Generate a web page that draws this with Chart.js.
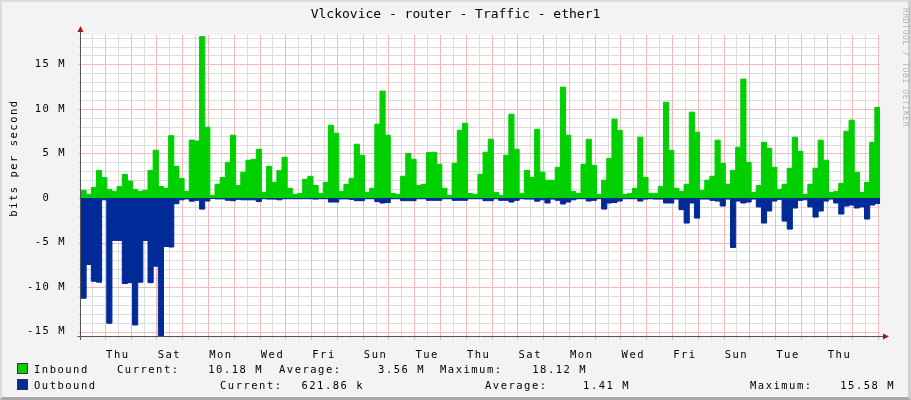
<!DOCTYPE html>
<html>
<head>
<meta charset="utf-8">
<script src="https://cdn.jsdelivr.net/npm/chart.js@4.4.1/dist/chart.umd.min.js"></script>
<style>
  html, body { margin: 0; padding: 0; }
  body { width: 911px; height: 400px; background: #f3f3f3; overflow: hidden; }
  #wrap { position: relative; width: 911px; height: 400px; box-sizing: border-box;
          border-top: 2px solid #dcdcdc; border-left: 2px solid #dcdcdc;
          border-right: 3px solid #cfcfcf; border-bottom: 3px solid #a8a8a8; }
  canvas { position: absolute; left: -2px; top: -2px; }
  .t { position: absolute; font-family: "DejaVu Sans Mono", monospace; font-size: 10.5px;
       letter-spacing: 1.5px; color: #000; white-space: nowrap; line-height: 12px; }
  #title { left: -2px; width: 911px; top: 6px; text-align: center; font-size: 13px; letter-spacing: 0; }
  #ytitle { left: 11px; top: 156px; transform: translate(-50%, -50%) rotate(-90deg); }
  #mark { left: 897px; top: 6px; writing-mode: vertical-rl; font-size: 8px; letter-spacing: 0.6px; color: #b4b4b4; }
  .sw { position: absolute; width: 9px; height: 9px; border: 1px solid #333; }
  .r { text-align: right; }
</style>
</head>
<body>
<div id="wrap">
  <canvas id="c" width="911" height="400"></canvas>
  <div class="t" id="title">Vlckovice - router - Traffic - ether1</div>
  <div class="t" id="ytitle">bits per second</div>
  <div class="t" id="mark">RRDTOOL / TOBI OETIKER</div>

  <div class="sw" style="left:15px;top:361px;background:#00cf00"></div>
  <div class="t" style="left:32px;top:361px">Inbound</div>
  <div class="t" style="left:115px;top:361px">Current:</div>
  <div class="t r" style="left:190px;width:71px;top:361px">10.18 M</div>
  <div class="t" style="left:277px;top:361px">Average:</div>
  <div class="t r" style="left:352px;width:71px;top:361px">3.56 M</div>
  <div class="t" style="left:438px;top:361px">Maximum:</div>
  <div class="t r" style="left:514px;width:71px;top:361px">18.12 M</div>

  <div class="sw" style="left:15px;top:377px;background:#002a97"></div>
  <div class="t" style="left:32px;top:377px">Outbound</div>
  <div class="t" style="left:218px;top:377px">Current:</div>
  <div class="t r" style="left:281px;width:81px;top:377px">621.86 k</div>
  <div class="t" style="left:483px;top:377px">Average:</div>
  <div class="t r" style="left:557px;width:71px;top:377px">1.41 M</div>
  <div class="t" style="left:748px;top:377px">Maximum:</div>
  <div class="t r" style="left:822px;width:71px;top:377px">15.58 M</div>
</div>

<script>
// 31 days, one value every 4.8 h (5 per day), values in Mbit/s
const stepHours = 4.8;
const totalHours = 744;
const firstMidnight = 22.3; // hours after graph start

const inbound = [
  0.86, 0.41, 1.2, 3.1, 2.3, 0.97, 0.75, 1.3, 2.66, 1.9, 0.97, 0.75, 0.86, 3.1, 5.36, 1.3, 1.1, 7.0, 3.56, 2.2, 0.75, 6.5,
  6.4, 18.12, 7.95, 0.3, 1.54, 2.3, 4.0, 7.05, 1.42, 2.9, 4.24, 4.35, 5.47, 0.64, 3.56, 1.76, 3.1, 4.57, 1.09, 0.41, 0.52, 2.1, 2.44,
  1.42, 0.52, 1.76, 8.17, 7.27, 0.75, 1.54, 2.2, 6.04, 4.8, 0.64, 1.09, 8.29, 12.0, 7.05, 0.52, 0.41, 2.44, 5.02, 4.35, 1.42, 1.54,
  5.1, 5.14, 3.79, 1.09, 0.3, 3.9, 7.6, 8.4, 0.52, 0.41, 2.66, 5.14, 6.6, 0.64, 0.3, 4.8, 9.41, 5.47, 0.52, 3.1, 2.32, 7.72, 2.9,
  2.0, 2.0, 3.45, 12.45, 7.05, 0.75, 0.52, 3.79, 6.6, 3.67, 0.41, 2.0, 4.46, 8.85, 7.6, 0.41, 0.52, 1.09, 6.82, 2.32, 0.52, 0.52,
  1.3, 10.76, 5.36, 1.09, 0.75, 1.54, 9.64, 7.39, 0.86, 2.0, 2.44, 6.49, 3.9, 1.54, 3.1, 5.7, 13.35, 4.0, 0.64, 1.42, 6.26, 5.59, 3.45,
  0.97, 1.54, 3.34, 6.82, 5.25, 0.41, 1.54, 3.34, 6.49, 4.24, 0.64, 0.75, 1.65, 7.5, 8.74, 2.89, 0.64, 1.76, 6.26, 10.18
];

// drawn below zero
const outbound = [
  11.25, 7.46, 9.34, 9.45, 0.2, 14.06, 4.76, 4.76, 9.6, 9.5, 14.25, 9.45, 4.76, 9.5, 7.65, 15.58, 5.44, 5.5, 0.64, 0.2, 0.1, 0.35,
  0.26, 1.24, 0.34, 0.05, 0.1, 0.1, 0.25, 0.3, 0.15, 0.2, 0.2, 0.2, 0.4, 0.08, 0.12, 0.12, 0.2, 0.08, 0.08, 0.08, 0.08, 0.08, 0.08,
  0.12, 0.08, 0.08, 0.45, 0.45, 0.1, 0.1, 0.15, 0.3, 0.3, 0.08, 0.08, 0.4, 0.56, 0.5, 0.08, 0.08, 0.3, 0.3, 0.3, 0.08, 0.08,
  0.26, 0.26, 0.26, 0.08, 0.08, 0.26, 0.26, 0.26, 0.08, 0.08, 0.08, 0.3, 0.3, 0.08, 0.26, 0.26, 0.45, 0.26, 0.08, 0.12, 0.12, 0.35, 0.2,
  0.56, 0.12, 0.26, 0.67, 0.45, 0.2, 0.08, 0.08, 0.34, 0.26, 0.08, 1.24, 0.56, 0.5, 0.34, 0.08, 0.08, 0.08, 0.34, 0.12, 0.08, 0.12,
  0.12, 0.56, 0.56, 0.12, 1.31, 2.81, 0.56, 2.25, 0.12, 0.12, 0.26, 0.34, 0.9, 0.12, 5.55, 0.34, 0.56, 0.45, 0.12, 1.0, 2.81, 1.46, 0.34,
  0.15, 2.59, 3.49, 1.12, 0.26, 0.2, 1.0, 2.14, 1.46, 0.34, 0.12, 0.56, 1.8, 0.9, 0.79, 1.12, 1.0, 2.36, 0.79, 0.62
];

// one label every 2 days, at noon
const dayLabels = ['Thu', 'Sat', 'Mon', 'Wed', 'Fri', 'Sun', 'Tue', 'Thu', 'Sat', 'Mon', 'Wed', 'Fri', 'Sun', 'Tue', 'Thu'];
const yTicks = [-15, -10, -5, 0, 5, 10, 15];

const majorGrid = '#f3b9b9';
const minorGrid = '#dcdcdc';

function toPoints(values, sign) {
  const pts = values.map((v, i) => ({ x: i * stepHours, y: sign * v }));
  pts.push({ x: totalHours, y: sign * values[values.length - 1] });
  return pts;
}

function isMidnight(h) {
  const d = (h - firstMidnight) / 24;
  return Math.abs(d - Math.round(d)) < 1e-6;
}

// rrdtool look: white canvas, grid from the scale ticks, axes with arrows
const rrdLook = {
  id: 'rrdLook',
  beforeDraw(chart) {
    const { ctx, chartArea: a } = chart;
    ctx.letterSpacing = '1.5px';
    ctx.save();
    ctx.fillStyle = '#fff';
    ctx.fillRect(a.left, a.top, a.right - a.left, a.bottom - a.top);
    ctx.restore();
  },
  beforeDatasetsDraw(chart) {
    const { ctx, chartArea: a, scales: { x, y } } = chart;
    ctx.save();
    ctx.lineWidth = 1;
    // minor first, major on top
    for (const major of [false, true]) {
      ctx.strokeStyle = major ? majorGrid : minorGrid;
      ctx.beginPath();
      x.ticks.forEach(t => {
        if (isMidnight(t.value) !== major) return;
        const px = Math.round(x.getPixelForValue(t.value)) + 0.5;
        ctx.moveTo(px, a.top); ctx.lineTo(px, a.bottom + 3);
      });
      y.ticks.forEach(t => {
        if ((t.value % 5 === 0) !== major) return;
        const py = Math.round(y.getPixelForValue(t.value)) + 0.5;
        ctx.moveTo(a.left - 3, py); ctx.lineTo(a.right, py);
      });
      ctx.stroke();
    }
    ctx.restore();
  },
  afterDraw(chart) {
    const { ctx, chartArea: a } = chart;
    const x0 = a.left - 0.5, y0 = a.bottom - 0.5;
    ctx.save();
    ctx.strokeStyle = '#555';
    ctx.lineWidth = 1;
    ctx.beginPath();
    ctx.moveTo(x0, a.bottom + 3); ctx.lineTo(x0, a.top - 4);
    ctx.moveTo(x0 - 3, y0); ctx.lineTo(a.right + 4, y0);
    ctx.stroke();
    // arrows
    ctx.fillStyle = '#9b1b1b';
    ctx.beginPath();
    ctx.moveTo(x0 - 3, a.top - 3); ctx.lineTo(x0 + 3, a.top - 3); ctx.lineTo(x0, a.top - 9);
    ctx.closePath(); ctx.fill();
    ctx.beginPath();
    ctx.moveTo(a.right + 3, y0 - 3); ctx.lineTo(a.right + 3, y0 + 3); ctx.lineTo(a.right + 9, y0);
    ctx.closePath(); ctx.fill();
    ctx.restore();
  }
};

const tickFont = { family: 'DejaVu Sans Mono', size: 10.5 };

new Chart(document.getElementById('c'), {
  type: 'line',
  data: {
    datasets: [
      {
        label: 'Inbound',
        data: toPoints(inbound, 1),
        stepped: true,
        fill: 'origin',
        backgroundColor: '#00cf00',
        borderColor: '#00cf00',
        borderWidth: 1,
        pointRadius: 0
      },
      {
        label: 'Outbound',
        data: toPoints(outbound, -1),
        stepped: true,
        fill: 'origin',
        backgroundColor: '#002a97',
        borderColor: '#002a97',
        borderWidth: 1,
        pointRadius: 0
      }
    ]
  },
  options: {
    responsive: false,
    animation: false,
    devicePixelRatio: 1,
    layout: { padding: { left: 0, top: 35, right: 31, bottom: 0 } },
    plugins: { legend: { display: false }, tooltip: { enabled: false } },
    scales: {
      x: {
        type: 'linear',
        min: 0,
        max: totalHours,
        afterFit: s => { s.height = 63; },
        afterBuildTicks: s => {
          const t = [];
          for (let h = firstMidnight - 12; h <= totalHours; h += 12) t.push({ value: h });
          s.ticks = t;
        },
        grid: { display: false },
        border: { display: false },
        ticks: {
          autoSkip: false,
          maxRotation: 0,
          padding: 4,
          color: '#000',
          font: tickFont,
          callback: v => {
            const k = (v - firstMidnight - 12) / 48;
            const n = Math.round(k);
            return Math.abs(k - n) < 1e-6 && dayLabels[n] ? dayLabels[n] : '';
          }
        }
      },
      y: {
        min: -15.6,
        max: 18.3,
        afterFit: s => { s.width = 81; },
        afterBuildTicks: s => {
          const t = [];
          for (let v = -15; v <= 18; v++) t.push({ value: v });
          s.ticks = t;
        },
        grid: { display: false },
        border: { display: false },
        ticks: {
          autoSkip: false,
          padding: 7,
          color: '#000',
          font: tickFont,
          callback: v => yTicks.includes(v) ? (v === 0 ? '0  ' : v + ' M') : ''
        }
      }
    }
  },
  plugins: [rrdLook]
});
</script>
</body>
</html>
